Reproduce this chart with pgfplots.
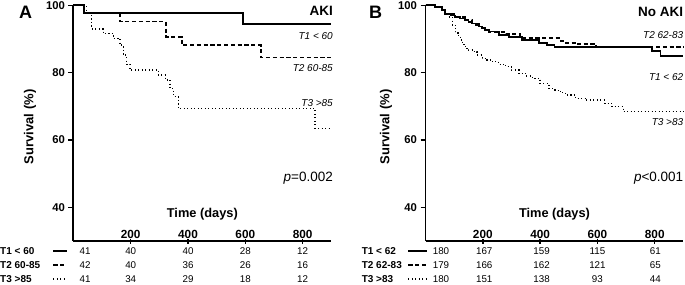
\documentclass[border=0pt]{standalone}
\usepackage{fontspec}
\setmainfont{Liberation Sans}
\usepackage{pgfplots}
\pgfplotsset{compat=1.18}

\pgfplotstableread{
t v
0 100
38 97.6
593 94.4
900 94.4
}\AaT
\pgfplotstableread{
t v
0 100
38 97.6
163 95.2
322 90.7
378 88.2
654 84.5
900 84.5
}\AbT
\pgfplotstableread{
t v
0 100
46 97.6
64 93.0
104 91.7
139 90.2
163 88.2
174 85.2
186 82.5
198 80.8
296 79.3
322 77.8
337 75.3
349 72.9
366 69.4
843 63.5
900 63.5
}\AcT
\pgfplotstableread{
t v
0 100
34 99.4
58 98.6
69 97.4
90 97.0
104 96.6
120 96.1
139 95.6
150 95.1
163 94.6
175 94.2
186 93.7
198 93.2
209 92.7
221 92.2
256 91.2
291 90.7
338 89.7
396 88.7
425 88.2
450 87.7
791 86.5
820 84.9
900 84.9
}\BaT
\pgfplotstableread{
t v
0 100
34 99.4
58 98.6
69 97.4
104 96.6
139 95.6
163 94.6
186 93.7
209 92.8
221 92.0
280 91.4
330 90.2
465 89.5
490 88.9
523 88.4
596 87.7
900 87.7
}\BbT
\pgfplotstableread{
t v
0 100
34 99.4
58 98.6
69 97.4
80 96.5
93 94.1
104 92.2
113 91.0
122 89.7
130 88.4
139 87.2
150 86.7
163 86.2
180 85.2
198 84.3
215 83.8
233 83.3
255 82.5
279 81.8
300 80.8
326 79.8
350 79.0
373 78.3
400 76.8
431 75.3
452 74.8
470 74.1
488 73.4
523 72.4
558 71.9
625 70.9
650 69.9
690 68.4
900 68.4
}\BcT

\pgfplotsset{km/.style={
  scale only axis, width=257.9pt, height=235.7pt,
  xmin=0, xmax=900, ymin=30, ymax=100,
  axis lines=left,
  axis line style={-, line width=1.9pt, black},
  ytick={40,60,80,100}, xtick={200,400,600,800},
  major tick length=5pt,
  tick style={black, line width=1.5pt},
  ytick align=outside, xtick align=center,
  /pgf/number format/assume math mode=true,
  yticklabel style={font=\fontsize{11.3}{12}\selectfont\bfseries},
  xticklabel style={font=\fontsize{11.8}{12}\selectfont\bfseries, anchor=south, yshift=1pt},
  clip=false,
}}
\tikzset{
  s1/.style={black, line width=1.8pt},
  s2/.style={black, line width=1.8pt, dash pattern=on 4.2pt off 2.6pt},
  s3/.style={black, line width=1.3pt, dash pattern=on 1.1pt off 2.4pt},
  rl/.style={anchor=west, inner sep=0pt, font=\fontsize{10}{11}\selectfont\bfseries},
  rn/.style={inner sep=0pt, font=\fontsize{9.8}{11}\selectfont},
  cl/.style={anchor=east, inner sep=0pt, font=\fontsize{10}{11}\selectfont\itshape},
}

\begin{document}
\begin{tikzpicture}[x=1pt,y=1pt]
\path[use as bounding box] (0,0) rectangle (685,284);

\begin{axis}[km, at={(73.4pt,43pt)}, anchor=south west]
\addplot[s3, const plot] table[x=t,y=v] {\AcT};
\addplot[s2, const plot] table[x=t,y=v] {\AbT};
\addplot[s1, const plot] table[x=t,y=v] {\AaT};
\node[font=\fontsize{18}{20}\selectfont\bfseries] at (axis cs:-167,98) {A};
\node[anchor=east, inner sep=0pt, font=\fontsize{13.5}{15}\selectfont\bfseries] at (axis cs:906,98.4) {AKI};
\node[cl] at (axis cs:906,90.9) {T1 < 60};
\node[cl] at (axis cs:906,81.5) {T2 60-85};
\node[cl] at (axis cs:906,71.1) {T3 >85};
\node[anchor=east, inner sep=0pt, font=\fontsize{13.5}{15}\selectfont] at (axis cs:906,48.8) {\textit{p}=0.002};
\node[rotate=90, font=\fontsize{13}{14}\selectfont\bfseries] at (axis cs:-151.5,63.9) {Survival (\%)};
\node[font=\fontsize{12.8}{14}\selectfont\bfseries] at (axis cs:450,37.9) {Time (days)};
\node[rl] at (axis cs:-256,27.0) {T1 < 60};
\node[rl] at (axis cs:-256,22.9) {T2 60-85};
\node[rl] at (axis cs:-256,18.7) {T3 >85};
\draw[s1] (axis cs:-70,27.0) -- (axis cs:-23.5,27.0);
\draw[s2] (axis cs:-70,22.9) -- (axis cs:-23.5,22.9);
\draw[s3] (axis cs:-70,18.7) -- (axis cs:-23.5,18.7);
\node[rn] at (axis cs:41,27.0) {41};
\node[rn] at (axis cs:200,27.0) {40};
\node[rn] at (axis cs:400,27.0) {40};
\node[rn] at (axis cs:600,27.0) {28};
\node[rn] at (axis cs:800,27.0) {12};
\node[rn] at (axis cs:41,22.9) {42};
\node[rn] at (axis cs:200,22.9) {40};
\node[rn] at (axis cs:400,22.9) {36};
\node[rn] at (axis cs:600,22.9) {26};
\node[rn] at (axis cs:800,22.9) {16};
\node[rn] at (axis cs:41,18.7) {41};
\node[rn] at (axis cs:200,18.7) {34};
\node[rn] at (axis cs:400,18.7) {29};
\node[rn] at (axis cs:600,18.7) {18};
\node[rn] at (axis cs:800,18.7) {12};
\end{axis}

\begin{axis}[km, at={(425.5pt,43pt)}, anchor=south west]
\addplot[s1, const plot] table[x=t,y=v] {\BaT};
\addplot[s2, const plot] table[x=t,y=v] {\BbT};
\addplot[s3, const plot] table[x=t,y=v] {\BcT};
\node[font=\fontsize{18}{20}\selectfont\bfseries] at (axis cs:-174,98) {B};
\node[anchor=east, inner sep=0pt, font=\fontsize{13.5}{15}\selectfont\bfseries] at (axis cs:900,98.1) {No AKI};
\node[cl] at (axis cs:900,91.2) {T2 62-83};
\node[cl] at (axis cs:900,78.6) {T1 < 62};
\node[cl] at (axis cs:900,65.4) {T3 >83};
\node[anchor=east, inner sep=0pt, font=\fontsize{13.5}{15}\selectfont] at (axis cs:900,48.6) {\textit{p}<0.001};
\node[rotate=90, font=\fontsize{13}{14}\selectfont\bfseries] at (axis cs:-138,63.9) {Survival (\%)};
\node[font=\fontsize{12.8}{14}\selectfont\bfseries] at (axis cs:450,37.9) {Time (days)};
\node[rl] at (axis cs:-223,27.0) {T1 < 62};
\node[rl] at (axis cs:-223,22.9) {T2 62-83};
\node[rl] at (axis cs:-223,18.7) {T3 >83};
\draw[s1] (axis cs:-60,27.0) -- (axis cs:6,27.0);
\draw[s2] (axis cs:-60,22.9) -- (axis cs:6,22.9);
\draw[s3] (axis cs:-60,18.7) -- (axis cs:6,18.7);
\node[rn] at (axis cs:54,27.0) {180};
\node[rn] at (axis cs:205,27.0) {167};
\node[rn] at (axis cs:405,27.0) {159};
\node[rn] at (axis cs:600,27.0) {115};
\node[rn] at (axis cs:802,27.0) {61};
\node[rn] at (axis cs:54,22.9) {179};
\node[rn] at (axis cs:205,22.9) {166};
\node[rn] at (axis cs:405,22.9) {162};
\node[rn] at (axis cs:600,22.9) {121};
\node[rn] at (axis cs:802,22.9) {65};
\node[rn] at (axis cs:54,18.7) {180};
\node[rn] at (axis cs:205,18.7) {151};
\node[rn] at (axis cs:405,18.7) {138};
\node[rn] at (axis cs:600,18.7) {93};
\node[rn] at (axis cs:802,18.7) {44};
\end{axis}
\end{tikzpicture}
\end{document}
